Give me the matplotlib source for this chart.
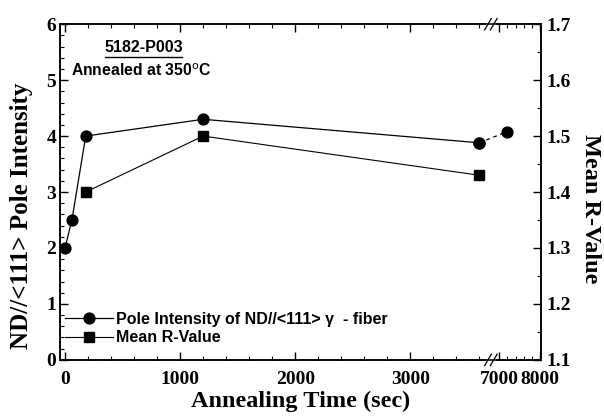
import numpy as np
import matplotlib
matplotlib.use("Agg")
import matplotlib.pyplot as plt
from matplotlib.ticker import FixedLocator
from matplotlib.lines import Line2D

# data
time_pole = [0, 60, 180, 1200, 3600, 7200]
pole_int = [2.0, 2.5, 4.0, 4.3, 3.88, 4.08]
time_r = [180, 1200, 3600]
r_value = [1.40, 1.50, 1.43]

x_ticks = [0, 1000, 2000, 3000, 7000, 8000]
x_labels = ['0', '1000', '2000', '3000', '7000', '8000']

# broken x axis: 3700 .. 6800 cut out, upper part compressed
B0, B1, R = 3700.0, 6800.0, 0.357
XMIN, XMAX = -40, 8010


def fwd(x):
    x = np.asarray(x, dtype=float)
    return np.where(x <= B0, x, np.where(x >= B1, B0 + (x - B1) * R, B0))


def inv(y):
    y = np.asarray(y, dtype=float)
    return np.where(y <= B0, y, B1 + (y - B0) / R)


serif = 'Liberation Serif'
sans = 'Liberation Sans'

fig = plt.figure(figsize=(6.04, 4.17), dpi=100)
ax = fig.add_axes([0.100, 0.137, 0.795, 0.805])
ax2 = ax.twinx()

ax.set_xscale('function', functions=(fwd, inv))
ax.set_xlim(XMIN, XMAX)
ax.set_ylim(0, 6)
ax2.set_ylim(1.1, 1.7)

# pole intensity: solid up to 3600, dashed across the break
ax.plot(time_pole[:5], pole_int[:5], '-', color='black', lw=0.9,
        marker='o', ms=7.8, zorder=3)
ax.plot(time_pole[4:], pole_int[4:], color='black', lw=0.9,
        dashes=(3, 3), marker='o', ms=7.8, zorder=3)
ax2.plot(time_r, r_value, '-', color='black', lw=0.8,
         marker='s', ms=6.5, zorder=3)

# ticks
ax.xaxis.set_major_locator(FixedLocator(x_ticks))
ax.set_xticklabels(x_labels)
minors = list(np.arange(0, 3701, 200)) + list(np.arange(7000, 8001, 200))
ax.xaxis.set_minor_locator(FixedLocator(minors))
ax.yaxis.set_major_locator(FixedLocator(np.arange(0, 7, 1)))
ax.yaxis.set_minor_locator(FixedLocator(np.arange(0, 6.01, 0.2)))
ax2.yaxis.set_major_locator(FixedLocator(np.arange(1.1, 1.71, 0.1)))
ax2.yaxis.set_minor_locator(FixedLocator(np.arange(1.1, 1.71, 0.05)))
ax2.set_yticklabels(['1.1', '1.2', '1.3', '1.4', '1.5', '1.6', '1.7'])

ax.tick_params(which='both', direction='in', top=True, right=False)
ax.tick_params(which='major', length=6, width=1, labelsize=14, pad=3)
ax.tick_params(axis='x', which='major', pad=8)
ax.tick_params(which='minor', length=3, width=0.8)
ax2.tick_params(which='both', direction='in')
ax2.tick_params(which='major', length=6, width=1, labelsize=14, pad=4)
ax2.tick_params(which='minor', length=3, width=0.8)
for lab in ax.get_xticklabels() + ax.get_yticklabels() + ax2.get_yticklabels():
    lab.set_family(serif)
    lab.set_weight('bold')

for a in (ax, ax2):
    for s in a.spines.values():
        s.set_linewidth(1.1)

ax.set_xlabel('Annealing Time (sec)', family=serif, weight='bold',
              fontsize=17.5, labelpad=2)
ax.set_ylabel('ND//<111> Pole Intensity', family=serif, weight='bold',
              fontsize=18)
ax.yaxis.set_label_coords(-0.057, 0.43)
ax2.set_ylabel('Mean R-Value', family=serif, weight='bold', fontsize=17.5,
               rotation=-90, va='center')
ax2.yaxis.set_label_coords(1.103, 0.45)

# break marks on top and bottom spines
xb = (fwd(B0) - fwd(XMIN)) / (fwd(XMAX) - fwd(XMIN))
for yb in (0, 1):
    ax.plot([xb - 0.006, xb + 0.006], [yb, yb], color='white', lw=3,
            transform=ax.transAxes, clip_on=False, zorder=5)
    for dx in (-0.006, 0.006):
        ax.plot([xb + dx - 0.007, xb + dx + 0.007], [yb - 0.017, yb + 0.017],
                color='black', lw=0.9, transform=ax.transAxes,
                clip_on=False, zorder=6)

# annotations
ax.text(0.092, 0.93, '5182-P003', transform=ax.transAxes, family=sans,
        weight='bold', fontsize=11.5, ha='left', va='center')
ax.plot([0.092, 0.254], [0.902, 0.902], color='black', lw=1,
        transform=ax.transAxes)
ax.text(0.022, 0.86, 'Annealed at 350$^{\\mathrm{o}}$C', transform=ax.transAxes,
        family=sans, weight='bold', fontsize=11.3, ha='left', va='center')

handles = [
    Line2D([], [], color='black', lw=0.9, marker='o', ms=7.8),
    Line2D([], [], color='black', lw=0.8, marker='s', ms=6.5),
]
labels = ['Pole Intensity of ND//<111> \u03b3  - fiber', 'Mean R-Value']
leg = ax2.legend(handles, labels, loc='lower left', frameon=False,
                 bbox_to_anchor=(-0.02, 0.0), handlelength=3.0,
                 handletextpad=0.2, labelspacing=0.25,
                 prop={'family': sans, 'weight': 'bold', 'size': 11.5})

fig.savefig('out.png', dpi=100)
